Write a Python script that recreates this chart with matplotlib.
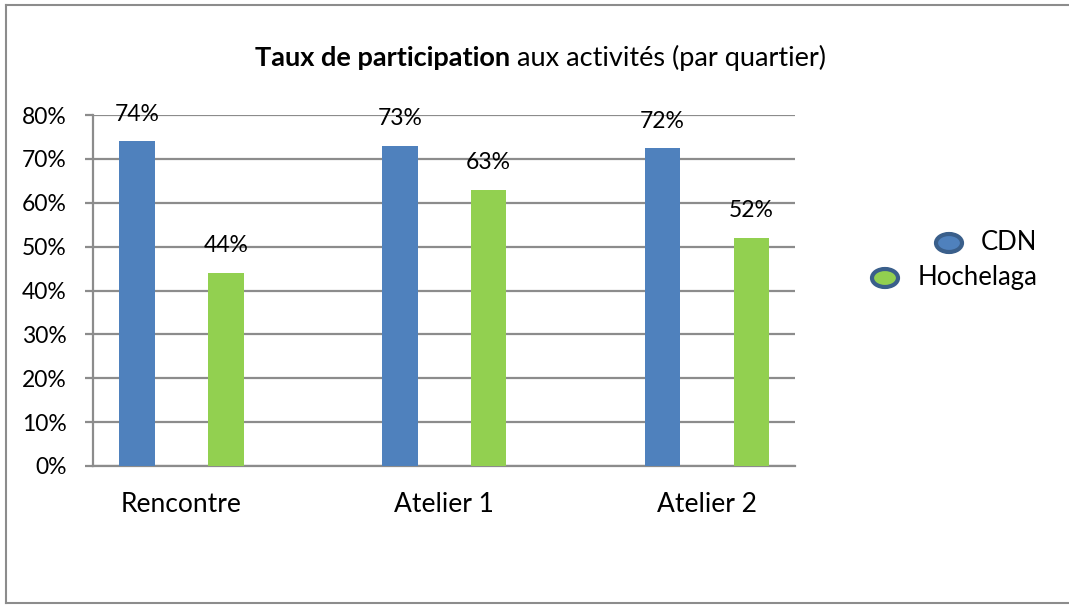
import matplotlib.pyplot as plt
from matplotlib.patches import Ellipse
from matplotlib.lines import Line2D
import numpy as np

plt.rcParams['font.family'] = ['Lato', 'DejaVu Sans']

# data
categories = ['Rencontre', 'Atelier 1', 'Atelier 2']
series_names = ['CDN', 'Hochelaga']
cdn = [0.74, 0.73, 0.724]
hochelaga = [0.44, 0.63, 0.52]
yticks = [0, 0.1, 0.2, 0.3, 0.4, 0.5, 0.6, 0.7, 0.8]

blue = '#4F81BD'
green = '#92D050'
gridc = '#8C8C8C'

W, H = 1069, 605
fig = plt.figure(figsize=(W / 100, H / 100), dpi=100)

# axes placed in pixel terms
ax = fig.add_axes([93 / W, 1 - 466 / H, (795 - 93) / W, (466 - 115) / H])

x = np.arange(len(categories))
bw = 0.135
off = 0.169
b1 = ax.bar(x - off, cdn, bw, color=blue, zorder=3)
b2 = ax.bar(x + off, hochelaga, bw, color=green, zorder=3)

for bars, vals in ((b1, cdn), (b2, hochelaga)):
    for rect, v in zip(bars, vals):
        ax.annotate(f'{round(v * 100):.0f}%', (rect.get_x() + rect.get_width() / 2, v),
                    xytext=(0, 19.5), textcoords='offset points',
                    ha='center', va='center', fontsize=16.5, color='black')

ax.set_xlim(-0.337, 2.335)
ax.set_ylim(0, 0.8)
ax.set_yticks(yticks)
ax.set_yticklabels([f'{int(round(t * 100))}%' for t in yticks], fontsize=16.5)
ax.set_xticks(x)
ax.set_xticklabels(categories, fontsize=19)

ax.yaxis.grid(True, color=gridc, lw=1.6, zorder=0)
for s in ('top', 'right'):
    ax.spines[s].set_visible(False)
ax.spines['left'].set_color(gridc)
ax.spines['left'].set_linewidth(1.6)
ax.spines['bottom'].set_color(gridc)
ax.spines['bottom'].set_linewidth(1.6)
ax.tick_params(axis='y', length=6, width=1.6, color=gridc, pad=13)
ax.tick_params(axis='x', length=0, pad=19)

# title: bold part + regular part
fig.text(510 / W, 1 - 58 / H, 'Taux de participation', fontsize=19.5, fontweight='bold',
         ha='right', va='center')
fig.text(510 / W, 1 - 58 / H, ' aux activités (par quartier)', fontsize=19.5,
         ha='left', va='center')

# legend drawn by hand, right aligned
leg = [(series_names[0], blue, 949, 243), (series_names[1], green, 885, 278)]
for name, col, ex, ey in leg:
    e = Ellipse((ex / W, 1 - ey / H), 26 / W, 18 / H, transform=fig.transFigure,
                facecolor=col, edgecolor='#3A5F8B', lw=3)
    fig.patches.append(e)
    fig.text(1037 / W, 1 - ey / H, name, fontsize=18.5, ha='right', va='center')

# outer frame (left, top, bottom visible)
for xs, ys in (([6, 6], [5, 603]), ([6, W], [5, 5]), ([6, W], [603, 603])):
    fig.lines.append(Line2D([v / W for v in xs], [1 - v / H for v in ys],
                            transform=fig.transFigure, color='#8C8C8C', lw=1.5))

fig.savefig('out.png', dpi=100)
